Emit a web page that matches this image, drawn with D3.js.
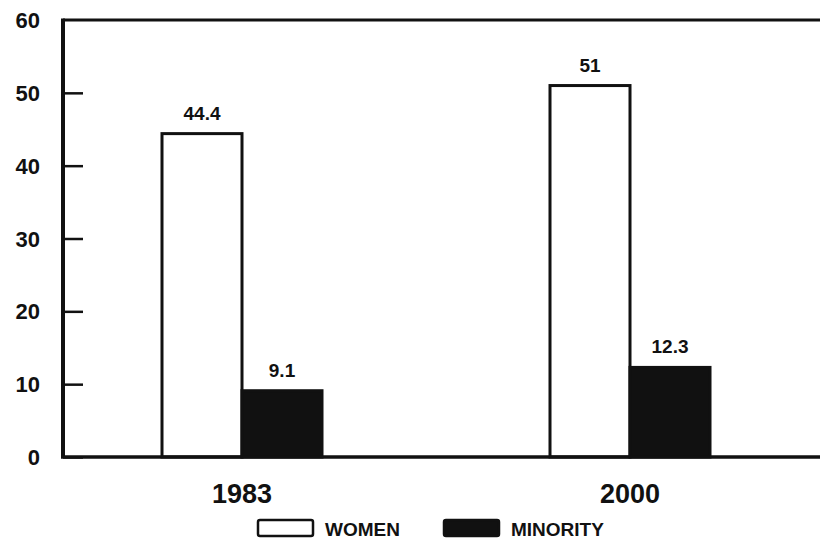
<!DOCTYPE html>
<html lang="en">
<head>
<meta charset="utf-8">
<title>Women and minority</title>
<script src="https://d3js.org/d3.v7.min.js"></script>
<style>
  body { margin: 0; background: #fff; }
  text { font-family: "Liberation Sans", Arial, sans-serif; font-weight: bold; fill: #111; }
</style>
</head>
<body>
<script>
// chart values
var years = ["1983", "2000"];
var groups = ["WOMEN", "MINORITY"];
var women = [44.4, 51];
var minority = [9.1, 12.3];
var valueLabels = [["44.4", "9.1"], ["51", "12.3"]];
var yTicks = [0, 10, 20, 30, 40, 50, 60];

var width = 820, height = 552;

var svg = d3.select("body").append("svg")
    .attr("width", width)
    .attr("height", height);

var y = d3.scaleLinear()
    .domain([0, 60])
    .range([457, 20]);

var x0 = d3.scaleBand()
    .domain(years)
    .range([48, 824]);

var x1 = d3.scaleBand()
    .domain(groups)
    .range([-80, 80]);

var fill = d3.scaleOrdinal()
    .domain(groups)
    .range(["#fff", "#111"]);

var axisX = 63;

// frame: top and bottom lines across, left axis
svg.append("line")
    .attr("x1", axisX).attr("x2", width)
    .attr("y1", y(60)).attr("y2", y(60))
    .attr("stroke", "#111").attr("stroke-width", 3);

// bars
var rows = years.map(function(yr, i) {
  return { year: yr, values: [
    { key: "WOMEN", v: women[i], label: valueLabels[i][0] },
    { key: "MINORITY", v: minority[i], label: valueLabels[i][1] }
  ]};
});

var g = svg.selectAll(".yr")
    .data(rows)
    .enter().append("g")
    .attr("class", "yr")
    .attr("transform", function(d) { return "translate(" + (x0(d.year) + x0.bandwidth() / 2) + ",0)"; });

g.selectAll("rect")
    .data(function(d) { return d.values; })
    .enter().append("rect")
    .attr("x", function(d) { return x1(d.key); })
    .attr("width", x1.bandwidth())
    .attr("y", function(d) { return y(d.v); })
    .attr("height", function(d) { return y(0) - y(d.v); })
    .attr("fill", function(d) { return fill(d.key); })
    .attr("stroke", "#111")
    .attr("stroke-width", 3);

g.selectAll(".val")
    .data(function(d) { return d.values; })
    .enter().append("text")
    .attr("class", "val")
    .attr("x", function(d) { return x1(d.key) + x1.bandwidth() / 2; })
    .attr("y", function(d) { return y(d.v) - 14; })
    .attr("text-anchor", "middle")
    .attr("font-size", 19)
    .text(function(d) { return d.label; });

g.append("text")
    .attr("x", 0)
    .attr("y", 503)
    .attr("text-anchor", "middle")
    .attr("font-size", 27)
    .text(function(d) { return d.year; });

// y axis with inward ticks
var yAxis = svg.append("g")
    .attr("transform", "translate(" + axisX + ",0)")
    .call(d3.axisRight(y).tickValues(yTicks.slice(0, -1)).tickSize(20).tickFormat(""));
yAxis.select(".domain").remove();
yAxis.selectAll("line").attr("stroke", "#111").attr("stroke-width", 2.5);

svg.append("g").selectAll("text")
    .data(yTicks)
    .enter().append("text")
    .attr("x", 40)
    .attr("y", function(d) { return y(d) + 8; })
    .attr("text-anchor", "end")
    .attr("font-size", 22)
    .text(function(d) { return d; });

svg.append("line")
    .attr("x1", axisX).attr("x2", axisX)
    .attr("y1", y(60) - 1.5).attr("y2", y(0))
    .attr("stroke", "#111").attr("stroke-width", 4);

svg.append("line")
    .attr("x1", axisX - 2).attr("x2", width)
    .attr("y1", y(0)).attr("y2", y(0))
    .attr("stroke", "#111").attr("stroke-width", 3.5);

// legend
var legend = svg.append("g").attr("transform", "translate(258,520)");
var lg = legend.selectAll("g")
    .data(groups)
    .enter().append("g")
    .attr("transform", function(d, i) { return "translate(" + (i * 186) + ",0)"; });

lg.append("rect")
    .attr("width", 55)
    .attr("height", 16)
    .attr("rx", 2)
    .attr("fill", function(d) { return fill(d); })
    .attr("stroke", "#111")
    .attr("stroke-width", 2.5);

lg.append("text")
    .attr("x", 67)
    .attr("y", 16)
    .attr("font-size", 19)
    .text(function(d) { return d; });
</script>
</body>
</html>
